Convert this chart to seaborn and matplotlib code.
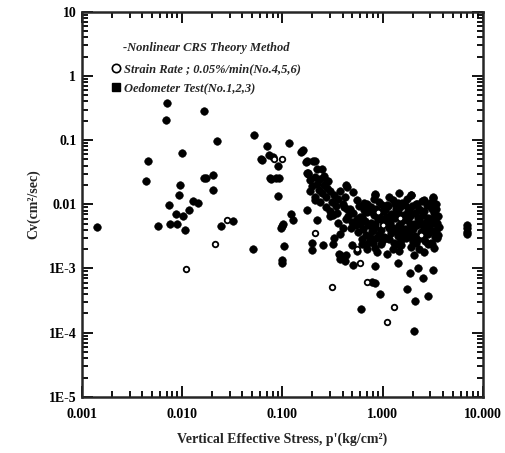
import numpy as np
import pandas as pd
import seaborn as sns
import matplotlib.pyplot as plt
from matplotlib.lines import Line2D
from matplotlib.ticker import FixedLocator, LogLocator, NullFormatter

# === DATA ===
# Oedometer test (No.1,2,3) - filled markers, scattered points
oedo_x = [0.00143, 0.00435, 0.00458, 0.0057, 0.00687, 0.00703, 0.00741, 0.00758, 0.00865, 0.0089,
          0.00933, 0.0095, 0.010, 0.0102, 0.0107, 0.0116, 0.0128, 0.0144, 0.0166, 0.0166,
          0.0172, 0.0205, 0.0202, 0.0223, 0.0243, 0.0325, 0.0514, 0.0522, 0.0623, 0.0698,
          0.0742, 0.0765, 0.0919, 0.0912, 0.100, 0.098, 0.102, 0.104, 0.100, 0.100,
          0.116, 0.121, 0.129, 0.156, 0.162, 0.172, 0.176, 0.182, 0.196, 0.200,
          0.204, 0.212, 0.22, 0.247, 0.256, 0.287, 0.298, 0.322, 0.376, 0.393,
          0.437, 0.51, 0.51, 0.604, 0.79, 0.84, 0.84, 0.94, 1.43, 1.76,
          1.87, 2.10, 2.07, 2.26, 2.54, 2.85, 3.20, 3.20, 1.94, 1.43,
          0.84, 6.9, 6.9, 6.9, 6.9, 0.062, 0.080, 0.090, 0.087, 0.0748,
          0.152, 0.175, 0.21, 0.178, 0.28, 0.44]
oedo_y = [0.0044, 0.0228, 0.0478, 0.00466, 0.207, 0.376, 0.00964, 0.00494, 0.00708, 0.0050,
          0.0138, 0.020, 0.0628, 0.00667, 0.00404, 0.00826, 0.0114, 0.0105, 0.286, 0.026,
          0.0254, 0.0289, 0.0169, 0.0977, 0.00455, 0.00544, 0.00202, 0.121, 0.0494, 0.0798,
          0.0591, 0.0251, 0.0256, 0.0133, 0.00466, 0.0043, 0.0050, 0.00222, 0.00138, 0.00123,
          0.0897, 0.0070, 0.00578, 0.0667, 0.0708, 0.0455, 0.00826, 0.0307, 0.0025, 0.00197,
          0.0466, 0.0118, 0.00578, 0.0354, 0.00236, 0.0228, 0.00667, 0.00245, 0.00165, 0.00147,
          0.0202, 0.0154, 0.00115, 0.000236, 0.00062, 0.000598, 0.00109, 0.000395, 0.00122, 0.000483,
          0.000857, 0.00031, 0.000106, 0.00102, 0.000716, 0.000372, 0.00096, 0.0125, 0.0141, 0.0105,
          0.0141, 0.0048, 0.0042, 0.0037, 0.0034, 0.050, 0.054, 0.040, 0.0253, 0.0253,
          0.0646, 0.0465, 0.0465, 0.031, 0.0227, 0.0189]

# Oedometer test - dense cloud between 0.2 and 3.6 kg/cm2 (estimated from the blob)
cloud_x = [0.18, 0.19, 0.20, 0.21, 0.22, 0.23, 0.24, 0.25, 0.26, 0.27, 0.28, 0.30, 0.31, 0.33,
           0.34, 0.36, 0.38, 0.40, 0.42, 0.44, 0.19, 0.21, 0.24, 0.27, 0.30, 0.22, 0.26,
           0.32, 0.36, 0.40, 0.33, 0.38, 0.37, 0.40, 0.43, 0.38, 0.42, 0.50, 0.55, 0.62, 0.70,
           0.84, 1.15, 1.45, 1.94, 2.6, 3.2,
           0.56, 0.66, 0.82, 0.93, 1.12, 1.27, 1.58, 1.77, 2.14, 2.46, 2.95, 3.28,
           0.41, 0.47, 0.58, 0.65, 0.77, 0.87, 1.02, 1.14, 1.35, 1.50, 1.78, 1.98, 2.33, 2.62, 3.05, 3.42,
           0.35, 0.45, 0.51, 0.62, 0.70, 0.83, 0.93, 1.09, 1.22, 1.44, 1.62, 1.90, 2.12, 2.51, 2.82, 3.28, 3.58,
           0.43, 0.50, 0.56, 0.67, 0.76, 0.90, 1.01, 1.20, 1.34, 1.58, 1.78, 2.08, 2.33, 2.74, 3.07, 3.52,
           0.48, 0.54, 0.64, 0.71, 0.85, 0.96, 1.13, 1.27, 1.50, 1.68, 1.97, 2.22, 2.61, 2.92, 3.38, 3.62,
           0.57, 0.69, 0.78, 0.92, 1.04, 1.22, 1.36, 1.62, 1.82, 2.13, 2.40, 2.81, 3.12, 3.57,
           0.63, 0.73, 0.87, 0.99, 1.17, 1.30, 1.54, 1.73, 2.02, 2.28, 2.68, 3.02, 3.47,
           0.69, 0.84, 0.97, 1.27, 1.52, 1.93, 2.32, 2.83, 3.27,
           0.88, 1.10, 1.45, 2.05, 2.60,
           0.75, 1.05, 1.40, 1.85, 2.40, 3.15, 0.60, 0.95, 1.25, 1.70, 2.25, 2.95, 3.45,
           0.80, 1.15, 1.55, 2.00, 2.70, 3.30,
           0.70, 0.98, 1.32, 1.68, 2.20, 2.75, 3.40, 0.60, 0.85, 1.10, 1.45, 1.90, 2.45, 3.20,
           0.75, 1.08, 1.42, 1.88, 2.55, 3.35, 0.80, 1.40, 2.15, 3.10]
cloud_y = [0.030, 0.024, 0.019, 0.027, 0.021, 0.017, 0.025, 0.015, 0.020, 0.013, 0.018, 0.016, 0.011, 0.014,
           0.0095, 0.012, 0.016, 0.010, 0.013, 0.0085, 0.016, 0.013, 0.011, 0.0092, 0.0078, 0.035, 0.028,
           0.0067, 0.0052, 0.0042, 0.0030, 0.0034, 0.0017, 0.0015, 0.0016, 0.0014, 0.0013, 0.0023, 0.0019, 0.0024, 0.0020,
           0.0145, 0.0128, 0.0152, 0.0139, 0.0118, 0.0132,
           0.0118, 0.0105, 0.0121, 0.0108, 0.0099, 0.0115, 0.0104, 0.0119, 0.0101, 0.0113, 0.0106, 0.0098,
           0.0092, 0.0084, 0.0095, 0.0081, 0.0091, 0.0086, 0.0079, 0.0094, 0.0083, 0.0090, 0.0080, 0.0093, 0.0085, 0.0078, 0.0091, 0.0084,
           0.0074, 0.0066, 0.0072, 0.0064, 0.0075, 0.0068, 0.0073, 0.0063, 0.0070, 0.0076, 0.0067, 0.0065, 0.0074, 0.0069, 0.0062, 0.0072, 0.0066,
           0.0058, 0.0053, 0.0060, 0.0054, 0.0051, 0.0059, 0.0055, 0.0052, 0.0061, 0.0054, 0.0057, 0.0050, 0.0058, 0.0053, 0.0056, 0.0051,
           0.0043, 0.0047, 0.0041, 0.0048, 0.0044, 0.0040, 0.0047, 0.0043, 0.0046, 0.0041, 0.0045, 0.0048, 0.0042, 0.0046, 0.0040, 0.0044,
           0.0037, 0.0033, 0.0038, 0.0034, 0.0031, 0.0036, 0.0039, 0.0033, 0.0036, 0.0032, 0.0037, 0.0034, 0.0038, 0.0033,
           0.0029, 0.0026, 0.0030, 0.0027, 0.0029, 0.0025, 0.0028, 0.0030, 0.0026, 0.0029, 0.0027, 0.0025, 0.0030,
           0.0023, 0.0021, 0.0024, 0.0020, 0.0023, 0.0022, 0.0020, 0.0024, 0.0021,
           0.0018, 0.0017, 0.0019, 0.0016, 0.0018,
           0.0080, 0.0082, 0.0078, 0.0081, 0.0079, 0.0083, 0.0063, 0.0061, 0.0064, 0.0060, 0.0062, 0.0059, 0.0063,
           0.0040, 0.0042, 0.0039, 0.0041, 0.0040, 0.0038,
           0.0100, 0.0097, 0.0102, 0.0099, 0.0101, 0.0096, 0.0100, 0.0050, 0.0049, 0.0051, 0.0048, 0.0050, 0.0049, 0.0051,
           0.0031, 0.0030, 0.0032, 0.0031, 0.0030, 0.0031, 0.0025, 0.0024, 0.0025, 0.0024]

# Strain rate 0.05%/min (No.4,5,6) - open circles
crs_x = [0.0109, 0.0215, 0.0279, 0.0832, 0.0985, 0.212, 0.315, 0.594, 0.695, 1.11, 1.30,
         0.55, 1.0, 1.5, 2.4, 0.9]
crs_y = [0.00099, 0.00241, 0.00578, 0.0507, 0.0507, 0.00358, 0.00052, 0.00122, 0.00062, 0.000147, 0.000254,
         0.0020, 0.0048, 0.0062, 0.0033, 0.0075]

X_TICKS = [0.001, 0.01, 0.1, 1, 10]
X_LABELS = ["0.001", "0.010", "0.100", "1.000", "10.000"]
Y_TICKS = [1e-5, 1e-4, 1e-3, 1e-2, 1e-1, 1, 10]
Y_LABELS = ["1E-5", "1E-4", "1E-3", "0.01", "0.1", "1", "10"]

# === PLOT ===
sns.set_style("ticks")
plt.rcParams['font.family'] = ['Liberation Serif', 'DejaVu Serif']
plt.rcParams['font.weight'] = 'bold'

oedo = pd.DataFrame({"p": oedo_x + cloud_x, "cv": oedo_y + cloud_y})
crs = pd.DataFrame({"p": crs_x, "cv": crs_y})

fig = plt.figure(figsize=(5.05, 4.53), dpi=100)
ax = fig.add_axes([0.162, 0.124, 0.794, 0.850])

sns.scatterplot(data=oedo, x="p", y="cv", ax=ax, marker="o", s=30,
                color="black", edgecolor="black", linewidth=0.4, legend=False)
sns.scatterplot(data=crs, x="p", y="cv", ax=ax, marker="o", s=16,
                facecolor="white", edgecolor="black", linewidth=1.3, legend=False)

ax.set_xscale("log")
ax.set_yscale("log")
ax.set_xlim(0.001, 10)
ax.set_ylim(1e-5, 10)

ax.xaxis.set_major_locator(FixedLocator(X_TICKS))
ax.set_xticklabels(X_LABELS)
ax.yaxis.set_major_locator(FixedLocator(Y_TICKS))
ax.set_yticklabels(Y_LABELS)
ax.xaxis.set_minor_locator(LogLocator(base=10, subs=np.arange(2, 10)))
ax.yaxis.set_minor_locator(LogLocator(base=10, subs=np.arange(2, 10)))
ax.xaxis.set_minor_formatter(NullFormatter())
ax.yaxis.set_minor_formatter(NullFormatter())

ax.tick_params(which="both", direction="in", top=True, right=True, width=1.3, colors="black")
ax.tick_params(which="major", length=8, labelsize=10)
ax.tick_params(which="minor", length=4)
ax.tick_params(axis="x", which="major", pad=8)
ax.tick_params(axis="y", which="major", pad=4)
for lab in ax.get_xticklabels() + ax.get_yticklabels():
    lab.set_fontweight("bold")
for sp in ax.spines.values():
    sp.set_linewidth(1.8)

ax.set_xlabel("Vertical Effective Stress, p'(kg/cm²)", fontsize=10, fontweight="bold", labelpad=8)
ax.set_ylabel("Cv(cm²/sec)", fontsize=10, fontweight="bold", labelpad=6)

handles = [
    Line2D([], [], marker="o", linestyle="", markerfacecolor="white", markeredgecolor="black",
           markeredgewidth=1.2, markersize=6, label="Strain Rate ; 0.05%/min(No.4,5,6)"),
    Line2D([], [], marker="s", linestyle="", color="black", markersize=5.5,
           label="Oedometer Test(No.1,2,3)"),
]
leg = ax.legend(handles=handles, title="-Nonlinear CRS Theory Method", loc="upper left",
                bbox_to_anchor=(0.055, 0.945), frameon=False, handlelength=0.6,
                handletextpad=0.3, labelspacing=0.55, borderpad=0.2,
                prop={"style": "italic", "weight": "bold", "size": 9})
leg.get_title().set_fontstyle("italic")
leg.get_title().set_fontweight("bold")
leg.get_title().set_fontsize(9)
leg._legend_box.align = "center"
leg._legend_box.sep = 7

plt.savefig("out.png", dpi=100)
plt.close()
